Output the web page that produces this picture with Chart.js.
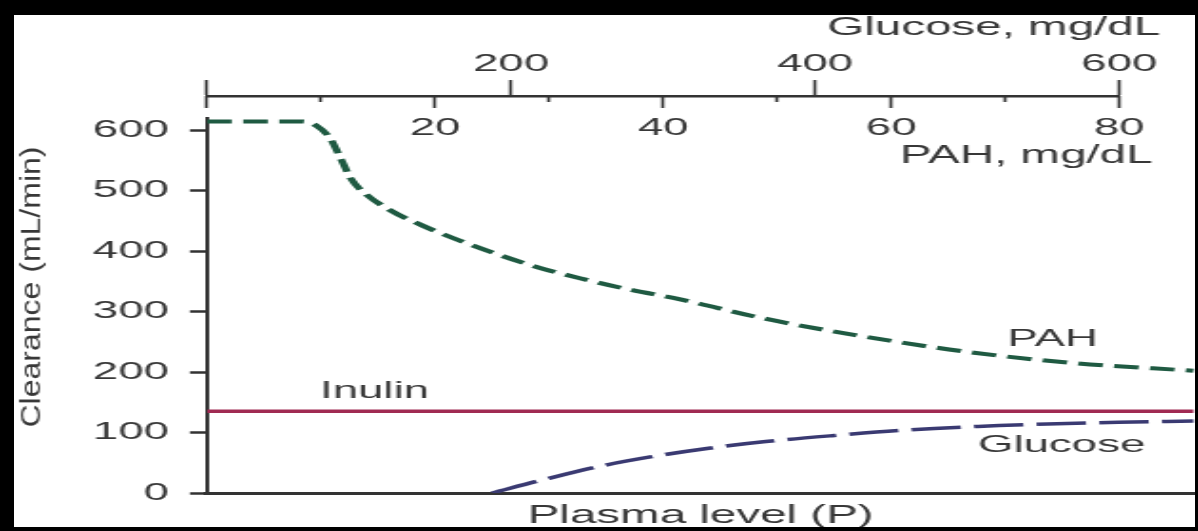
<!DOCTYPE html>
<html>
<head>
<meta charset="utf-8">
<title>Renal clearance vs plasma level</title>
<script src="https://cdn.jsdelivr.net/npm/chart.js@4.4.1/dist/chart.umd.min.js"></script>
<style>
  html, body { margin: 0; padding: 0; background: #fff; }
  #page { position: relative; width: 1198px; height: 531px; overflow: hidden; }
  /* the source picture is stretched sideways, so the canvas is drawn narrow and scaled up */
  #wrap { position: absolute; left: 0; top: 0; width: 630px; height: 531px; transform: scaleX(1.9016); transform-origin: 0 0; }
  #frame { position: absolute; left: 0; top: 0; width: 1198px; height: 531px; box-sizing: border-box;
           border: solid #000; border-width: 15px 3px 4px 14px; pointer-events: none; }
</style>
</head>
<body>
<div id="page">
  <div id="wrap"><canvas id="clearanceChart"></canvas></div>
  <div id="frame"></div>
</div>
<script>
// PAH clearance (mL/min) vs plasma PAH (mg/dL)
const pahX = [0, 8.4, 9.6, 10.8, 11.8, 12.6, 13.8, 16, 18.9, 21.9, 25.1, 29.2, 32.7, 37.1, 41.5, 48.7, 57.8, 66.8, 75.8, 86.5];
const pahY = [614, 614, 607, 586, 550, 520, 496, 468, 442, 419, 397, 372, 355, 336, 320, 289, 258, 233, 215, 202];

// glucose clearance, same x scale (PAH units)
const gluX = [25, 29.5, 34.4, 39, 44, 49, 55, 61.3, 67.6, 73.7, 79.9, 86.5];
const gluY = [0, 22, 44, 60, 74, 85, 95, 104, 110, 114, 117, 119];

// inulin clearance is flat
const inulinX = [0, 86.5];
const inulinY = [135, 135];

// axis ticks
const yTicks = [0, 100, 200, 300, 400, 500, 600];
const pahTicks = [0, 10, 20, 30, 40, 50, 60, 70, 80];
const pahLabelled = [20, 40, 60, 80];
const glucoseTicks = [0, 200, 400, 600];
const glucoseLabelled = [200, 400, 600];

const Y_MAX = 620;
const X_MAX = 86.57;          // right edge of the plot, in PAH mg/dL
const TOP_AXIS_AT = 656.2;    // y value where the double top axis sits
const GLU_PER_PAH = 7.5;      // 600 mg/dL glucose lines up with 80 mg/dL PAH
const STRETCH = 1198 / 630;

const FONT = "'Liberation Sans', Arial, Helvetica, sans-serif";
const INK = "#383838";
const AXIS = "#333333";

// curve labels, placed in data units
const curveLabels = [
  { text: "Inulin", x: 9.9, y: 168 },
  { text: "PAH", x: 70.2, y: 254 },
  { text: "Glucose", x: 67.6, y: 78 },
];

const toPoints = (xs, ys) => xs.map((x, i) => ({ x: x, y: ys[i] }));
const noPadding = (s) => { s.paddingLeft = 0; s.paddingRight = 0; s.paddingTop = 0; s.paddingBottom = 0; };

const textLayer = {
  id: "textLayer",
  afterDraw(chart) {
    const { ctx, scales: { x, y } } = chart;
    ctx.save();
    ctx.fillStyle = INK;
    ctx.textBaseline = "middle";

    ctx.font = "24px " + FONT;
    ctx.textAlign = "left";
    curveLabels.forEach((l) => ctx.fillText(l.text, x.getPixelForValue(l.x), y.getPixelForValue(l.y)));

    // unit names of the two top scales
    const end = x.getPixelForValue(80);
    ctx.font = "25px " + FONT;
    ctx.textAlign = "right";
    ctx.fillText("Glucose, mg/dL", end + 21.5, 28);
    ctx.fillText("PAH, mg/dL", end + 17.5, 156);

    // y title, narrow glyphs like the source
    ctx.translate(16.8, 287);
    ctx.rotate(-Math.PI / 2);
    ctx.scale(1, 0.48);
    ctx.font = "32px " + FONT;
    ctx.textAlign = "center";
    ctx.fillText("Clearance (mL/min)", 0, 0);
    ctx.restore();
  },
};

Chart.defaults.font.family = FONT;

new Chart(document.getElementById("clearanceChart"), {
  type: "line",
  data: {
    datasets: [
      {
        label: "PAH",
        data: toPoints(pahX, pahY),
        borderColor: "#1f5a42",
        borderWidth: 4,
        borderDash: [13, 6],
        pointRadius: 0,
        cubicInterpolationMode: "monotone",
      },
      {
        label: "Glucose",
        data: toPoints(gluX, gluY),
        borderColor: "#3a3a72",
        borderWidth: 3.5,
        borderDash: [26, 7],
        pointRadius: 0,
        cubicInterpolationMode: "monotone",
      },
      {
        label: "Inulin",
        data: toPoints(inulinX, inulinY),
        borderColor: "#a02a52",
        borderWidth: 3.5,
        pointRadius: 0,
      },
    ],
  },
  options: {
    responsive: true,
    maintainAspectRatio: false,
    animation: false,
    devicePixelRatio: 1,
    layout: { padding: { left: 0, top: 0, bottom: 0, right: 630 - 1195 / STRETCH } },
    plugins: { legend: { display: false }, tooltip: { enabled: false } },
    scales: {
      x: {
        type: "linear",
        position: "bottom",
        min: 0,
        max: X_MAX,
        ticks: { display: false },
        grid: { display: false, drawTicks: false },
        border: { display: true, color: AXIS, width: 3 },
        title: {
          display: true,
          text: "Plasma level (P)",
          color: INK,
          font: { size: 25 },
          padding: { top: 0, bottom: 0 },
        },
        afterFit: (s) => { s.height = 38; noPadding(s); },
      },
      y: {
        type: "linear",
        position: "left",
        min: 0,
        max: Y_MAX,
        afterBuildTicks: (s) => { s.ticks = yTicks.map((v) => ({ value: v })); },
        ticks: { color: INK, font: { size: 24 }, padding: 11 },
        grid: { drawOnChartArea: false, tickLength: 9, tickWidth: 2.5, tickColor: AXIS },
        border: { color: AXIS, width: 2 },
        afterFit: (s) => { s.width = 207 / STRETCH; noPadding(s); },
      },
      // empty piece to the right of 600 in the top stack (listed first: top stacks are laid out in reverse order)
      xGluRest: {
        type: "linear",
        axis: "x",
        position: "top",
        stack: "topAxis",
        stackWeight: X_MAX - 80,
        weight: 1,
        min: 0,
        max: 1,
        ticks: { display: false },
        grid: { display: false },
        border: { display: false },
        afterFit: (s) => { s.height = 96; noPadding(s); },
      },
      // glucose scale on top: spans 0..600 mg/dL, same length as PAH 0..80
      xGlu: {
        type: "linear",
        axis: "x",
        position: "top",
        stack: "topAxis",
        stackWeight: 80,
        weight: 1,
        min: 0,
        max: 80 * GLU_PER_PAH,
        afterBuildTicks: (s) => { s.ticks = glucoseTicks.map((v) => ({ value: v })); },
        ticks: {
          autoSkip: false,
          maxRotation: 0,
          color: INK,
          font: { size: 24 },
          padding: 1.6,
          callback: (v) => (glucoseLabelled.includes(v) ? String(v) : ""),
        },
        grid: { drawOnChartArea: false, tickLength: 16, tickWidth: 1.6, tickColor: AXIS },
        border: { color: AXIS, width: 2.5 },
        afterFit: (s) => { s.height = 96; noPadding(s); },
      },
      // gap between the top axis line and the plot area
      xGap: {
        type: "linear",
        axis: "x",
        position: "top",
        weight: 0,
        min: 0,
        max: 1,
        ticks: { display: false },
        grid: { display: false },
        border: { display: false },
        afterFit: (s) => { s.height = 117.9 - 96; noPadding(s); },
      },
      // PAH scale: hangs under the same line, ticks and labels below it
      xPah: {
        type: "linear",
        axis: "x",
        position: { y: TOP_AXIS_AT },
        min: 0,
        max: X_MAX,
        afterBuildTicks: (s) => { s.ticks = pahTicks.map((v) => ({ value: v })); },
        ticks: {
          autoSkip: false,
          maxRotation: 0,
          color: INK,
          font: { size: 24 },
          padding: 6.1,
          callback: (v) => (pahLabelled.includes(v) ? String(v) : ""),
        },
        grid: {
          drawOnChartArea: false,
          tickLength: 12,
          tickWidth: 1.6,
          tickColor: AXIS,
          tickBorderDash: (c) => (c.tick && c.tick.value % 20 === 10 ? [6, 40] : []),
        },
        border: { display: false },
        afterFit: (s) => { noPadding(s); },
      },
    },
  },
  plugins: [textLayer],
});
</script>
</body>
</html>
